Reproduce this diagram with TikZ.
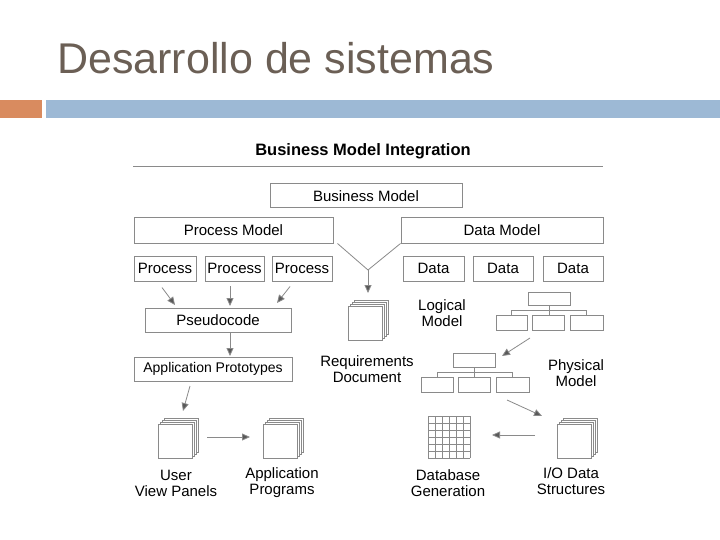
\documentclass[tikz,border=0pt]{standalone}
\usepackage{fontspec}
\setmainfont{Liberation Sans}
\usetikzlibrary{arrows.meta}
\definecolor{ttl}{HTML}{6B5F55}
\definecolor{org}{HTML}{D98B5F}
\definecolor{blu}{HTML}{9DB9D5}
\definecolor{ln}{HTML}{8A8A8A}
\begin{document}
\begin{tikzpicture}[x=1pt,y=-1pt,
  box/.style={draw=ln,line width=1pt,inner sep=0,font=\fontsize{15}{15}\selectfont},
  lbl/.style={align=center,font=\fontsize{15}{16}\selectfont},
  arr/.style={draw=ln,line width=0.8pt,-{Triangle[length=8pt,width=7pt,fill=gray!70!black]}},
  con/.style={draw=ln,line width=0.8pt},
  stack/.pic={
    \foreach \d in {6,4,2}{\draw[ln,fill=white,line width=0.6pt] (\d,-\d) rectangle (\d+34,-\d+34);}
    \draw[ln,fill=white,line width=0.8pt] (0,0) rectangle (34,34);}]
\useasboundingbox (0,0) rectangle (720,540);
\fill[white] (0,0) rectangle (720,540);
\node[anchor=base west,text=ttl,font=\fontsize{43}{43}\selectfont,inner sep=0] (title) at (57,74) {Desarrollo de sistemas};
\fill[org] (0,100) rectangle (42,118);
\fill[blu] (46,100) rectangle (720,118);
\node[font=\bfseries\fontsize{16.5}{16.5}\selectfont] (bmi) at (363,151) {Business Model Integration};
\draw[ln,line width=0.8pt] (133,166) -- (603,166);
\node[box,minimum width=192,minimum height=24] (bm) at (366,196) {Business Model};
\node[box,minimum width=199,minimum height=25] (pm) at (233.5,230.5) {Process Model};
\node[box,minimum width=202,minimum height=25] (dm) at (502,230.5) {Data Model};
\node[box,minimum width=62,minimum height=25] (p1) at (165,268.5) {Process};
\node[box,minimum width=59,minimum height=25] (p2) at (234.5,268.5) {Process};
\node[box,minimum width=60,minimum height=25] (p3) at (302,268.5) {Process};
\node[box,minimum width=61,minimum height=25] (d1) at (433.5,268.5) {Data};
\node[box,minimum width=60,minimum height=25] (d2) at (503,268.5) {Data};
\node[box,minimum width=60,minimum height=25] (d3) at (573,268.5) {Data};
\coordinate (j) at (368,270);
\draw[con] (pm.south east) ++(4,0) -- (j);
\draw[con] (dm.south west) -- (j);
\node[box,minimum width=146,minimum height=24] (ps) at (218,320) {Pseudocode};
\node[box,minimum width=158,minimum height=24,font=\fontsize{14}{14}\selectfont] (ap) at (213,369) {Application Prototypes};
\draw[arr] (p1.south) ++(-3,6) -- (175,305);
\draw[arr] (230,286) -- (230,306);
\draw[arr] (p3.south) ++(-12,5) -- (277,303);
\draw[arr] (ps.south -| 230,0) -- (230,356);
\pic (req) at (348,306) {stack};
\draw[arr] (j) -- (368,293);
\node[lbl] (reqt) at (367,369) {Requirements\\Document};
\node[lbl] (logt) at (442,313) {Logical\\Model};
\node[lbl] (phyt) at (576,373) {Physical\\Model};
\begin{scope}[ln,line width=0.8pt]
\draw (528,292) rectangle (570,305);
\draw (496,315) rectangle (527,330) (532,315) rectangle (564,330) (570,315) rectangle (603,330);
\draw (549,305) -- (549,310) (511,315) -- (511,310) -- (586,310) -- (586,315) (549,310) -- (549,315);
\draw (453,353) rectangle (495,367);
\draw (421,377) rectangle (453,392) (458,377) rectangle (490,392) (496,377) rectangle (529,392);
\draw (474,367) -- (474,377) (437,377) -- (437,372) -- (512,372) -- (512,377);
\end{scope}
\coordinate (lt) at (530,338);
\coordinate (pt) at (507,400);
\draw[arr] (lt) -- (502,356);
\draw[arr] (pt) -- (542,416);
\pic (uv) at (158,424) {stack};
\pic (apg) at (263,424) {stack};
\pic (io) at (557,424) {stack};
\coordinate (apb) at (190,386);
\draw[arr] (apb) -- (183,411);
\coordinate (uvr) at (207,437);
\draw[arr] (uvr) -- (250,437);
\coordinate (ioa) at (535,435);
\draw[arr] (ioa) -- (492,435);
\foreach \i in {0,...,6}{
  \draw[ln,line width=0.6pt] (428+7*\i,416) -- (428+7*\i,458);
  \draw[ln,line width=0.6pt] (428,416+7*\i) -- (470,416+7*\i);}
\node[lbl] (uvt) at (176,483) {User\\View Panels};
\node[lbl] (apt) at (282,483) {Application\\Programs};
\node[lbl] (dbt) at (448,483) {Database\\Generation};
\node[lbl] (iot) at (571,481) {I/O Data\\Structures};
\end{tikzpicture}
\end{document}
